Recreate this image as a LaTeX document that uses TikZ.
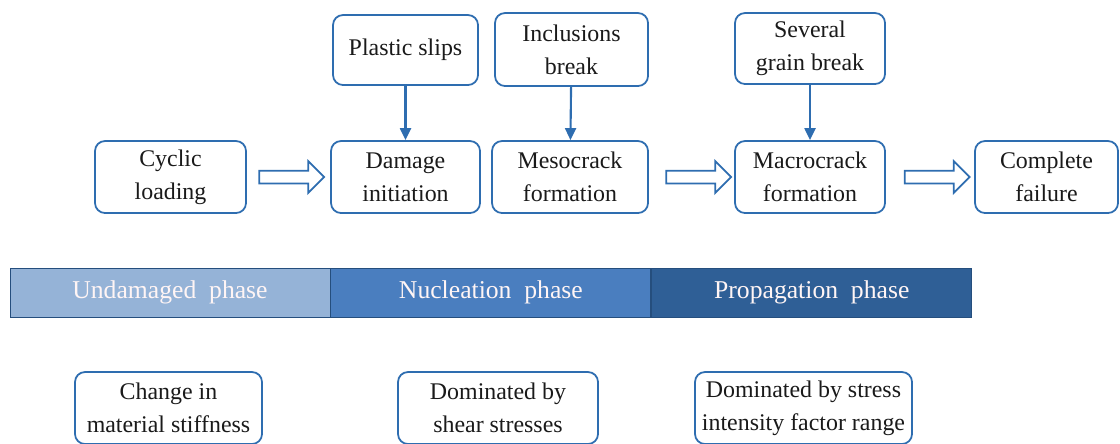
\documentclass[tikz,border=0pt]{standalone}
\usepackage{fontspec}
\setmainfont{Liberation Serif}
\definecolor{fgEdge}{HTML}{2E6DB0}
\definecolor{fgInk}{HTML}{1A1A1A}
\definecolor{fgLight}{HTML}{95B3D7}
\definecolor{fgMid}{HTML}{4A7EBF}
\definecolor{fgDark}{HTML}{2F5F96}
\definecolor{fgBarEdge}{HTML}{254E7D}
\usetikzlibrary{arrows.meta,positioning,shapes.arrows,calc}

\begin{document}
\begin{tikzpicture}[x=0.2mm,y=-0.2mm,
  font=\fontsize{13.6}{18.8}\selectfont,
  box/.style={draw=fgEdge,line width=1pt,rounded corners=2mm,fill=white,text=fgInk,
              align=center,inner sep=0pt,minimum height=14.4mm},
  hollow/.style={single arrow,draw=fgEdge,line width=1pt,fill=white,inner xsep=0pt,
                 inner ysep=1.1mm,minimum height=13mm,single arrow head extend=1.9mm},
  drop/.style={draw=fgEdge,line width=1.2pt,-{Triangle[width=2.2mm,length=2.4mm]}},
  phase/.style={draw=fgBarEdge,line width=0.5pt,text=white!96!red,inner sep=0pt,
                minimum width=64mm,minimum height=9.8mm,font=\fontsize{14.6}{18}\selectfont}]
\useasboundingbox (0,0) rectangle (1120,443);
% main chain
\node[box,minimum width=30.2mm] (cyc)   at (170.5,177) {Cyclic\\loading};
\node[box,minimum width=29.8mm] (dmg)   at (405.5,177) {Damage\\initiation};
\node[box,minimum width=31.2mm] (meso)  at (570,177)   {Mesocrack\\formation};
\node[box,minimum width=30mm]   (macro) at (810,177)   {Macrocrack\\formation};
\node[box,minimum width=28.6mm] (fail)  at (1046.5,177) {Complete\\failure};
% causes, above
\node[box,minimum width=29mm,minimum height=14mm]   (slip)  at (405.5,50) {Plastic slips};
\node[box,minimum width=30.6mm,minimum height=14.6mm] (incl) at (571.5,49.5) {Inclusions\\break};
\node[box,minimum width=30mm,minimum height=14.2mm] (grain) at (810,48.5) {Several\\grain break};
\draw[drop] (slip) -- (dmg);
\draw[drop] (incl) -- (meso);
\draw[drop] (grain) -- (macro);
% block arrows
\node[hollow] (a1) at ($(cyc.east)!0.5!(dmg.west)$) {};
\node[hollow] (a2) at ($(meso.east)!0.5!(macro.west)+(4,0)$) {};
\node[hollow] (a3) at ($(macro.east)!0.5!(fail.west)+(4,0)$) {};
% phase bar
\node[phase,fill=fgLight] (und) at (170,292.5) {Undamaged\ \ phase};
\node[phase,fill=fgMid,right=0pt of und] (nuc) {Nucleation\ \ phase};
\node[phase,fill=fgDark,right=0pt of nuc] (prop) {Propagation\ \ phase};
% notes, below
\node[box,minimum width=37.4mm] (stiff) at (168.5,408) {Change in\\material stiffness};
\node[box,minimum width=40mm]   (shear) at (498,408)   {Dominated by\\shear stresses};
\node[box,minimum width=43.4mm] (sif)   at (803.5,408) {Dominated by stress\\intensity factor range};
\end{tikzpicture}
\end{document}
